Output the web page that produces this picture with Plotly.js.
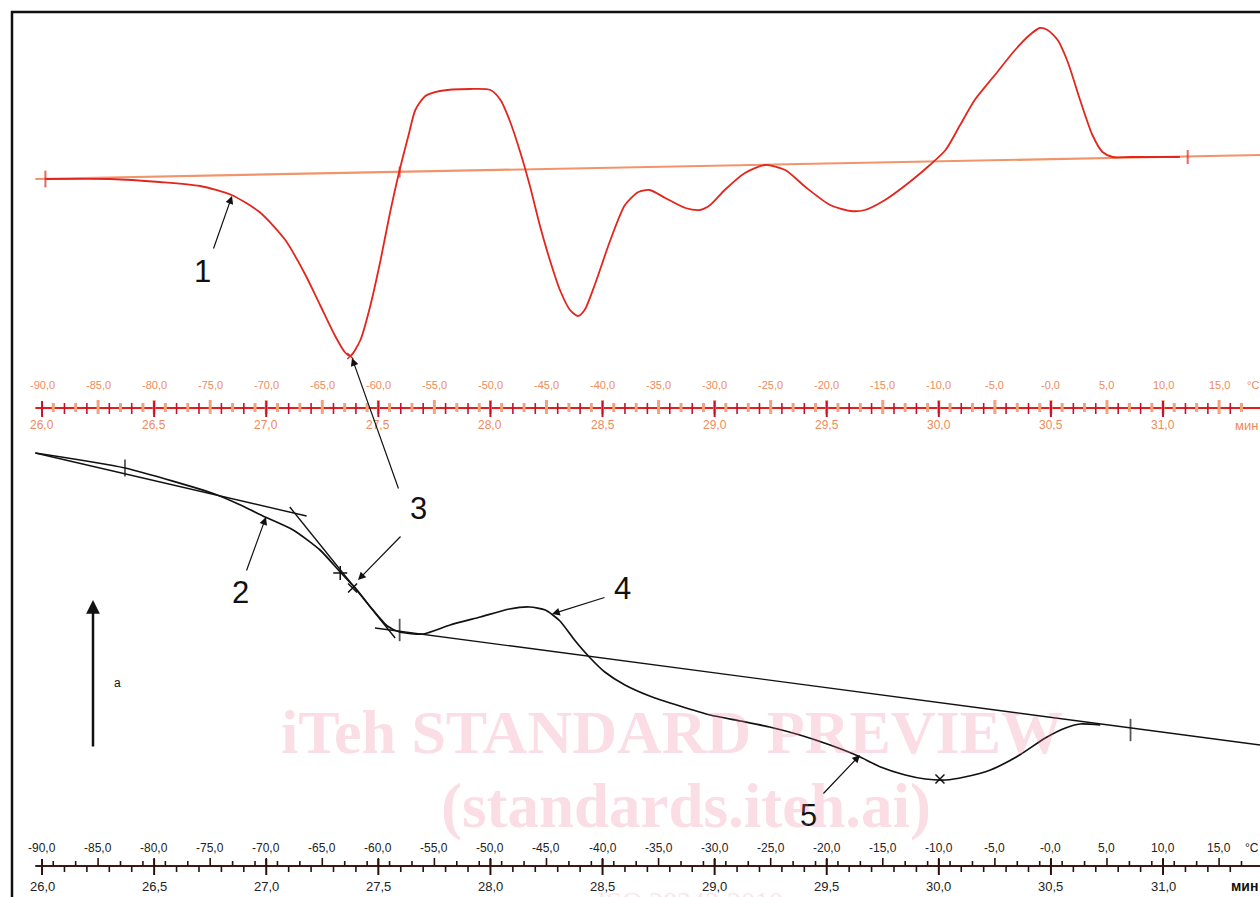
<!DOCTYPE html>
<html>
<head>
<meta charset="utf-8">
<script src="https://cdn.plot.ly/plotly-3.0.1.min.js"></script>
<style>html,body{margin:0;padding:0;background:#fff;}#chart{width:1260px;height:897px;}</style>
</head>
<body>
<div id="chart"></div>
<script>
// ---------- axis scales (temperature ruler and time ruler) ----------
const tempTickValues = [-90,-85,-80,-75,-70,-65,-60,-55,-50,-45,-40,-35,-30,-25,-20,-15,-10,-5,0,5,10,15];
const tempTickLabels = ["-90,0","-85,0","-80,0","-75,0","-70,0","-65,0","-60,0","-55,0","-50,0","-45,0","-40,0","-35,0","-30,0","-25,0","-20,0","-15,0","-10,0","-5,0","-0,0","5,0","10,0","15,0"];
const timeTickValues = [26.0,26.5,27.0,27.5,28.0,28.5,29.0,29.5,30.0,30.5,31.0];
const timeTickLabels = ["26,0","26,5","27,0","27,5","28,0","28,5","29,0","29,5","30,0","30,5","31,0"];
const startTime = 26.0, startTemp = -90.0, heatingRate = 20.0; // °C per min

// ---------- curve 1: DSC derivative signal (top, arbitrary units) ----------
const dscTemp = [-89.7,-83.9,-79.5,-75.9,-73.1,-70.6,-68.3,-66.5,-65.2,-63.9,-63.0,-62.5,-61.6,-60.7,-59.8,-59.0,-58.1,-57.3,-56.7,-55.8,-54.5,-51.8,-50.0,-49.1,-48.3,-47.4,-46.5,-45.6,-44.7,-43.8,-42.9,-42.2,-41.6,-40.7,-39.3,-38.0,-36.8,-35.8,-34.4,-32.6,-31.3,-30.4,-29.1,-27.3,-25.5,-23.7,-21.9,-19.7,-17.9,-16.6,-14.8,-12.6,-10.8,-9.4,-8.1,-6.8,-5.0,-3.2,-1.9,-1.0,-0.3,0.6,1.5,2.6,3.7,4.6,5.5,7.1,11.5];
const dscSignal = [0,0,-3,-7,-16,-33,-61,-96,-126,-156,-173,-177,-161,-126,-81,-36,9,44,69,83,88,90,89,79,59,29,-6,-46,-81,-111,-131,-137,-131,-106,-61,-26,-13,-11,-19,-29,-31,-26,-11,6,14,9,-8,-26,-32,-31,-21,-3,14,29,54,79,104,129,144,151,149,139,117,79,44,27,22,22,22];
const dscBaseTemp = [-90.6, 18.7];
const dscBaseSignal = [0, 24];

// ---------- curve 2/4/5: DSC heat flow (bottom, arbitrary units) ----------
const hfTemp = [-90.6,-82.6,-74.6,-72.3,-70.1,-67.6,-65.2,-63.4,-61.9,-60.7,-59.2,-58.1,-56.0,-53.6,-50.9,-48.3,-46.5,-45.1,-43.8,-42.5,-41.1,-39.8,-38.0,-35.8,-33.1,-30.4,-27.7,-25.1,-22.4,-19.7,-17.2,-15.2,-13.0,-11.2,-9.4,-7.7,-5.4,-2.8,-0.5,1.3,2.6,4.4];
const hfSignal = [181,166,140,129,117,104,84,62,44,27,8,2,0,9,17,25,27,24,13,-6,-24,-38,-51,-62,-72,-81,-87,-93,-101,-111,-122,-133,-141,-145,-146,-143,-136,-121,-104,-94,-90,-91];
const upperBaseTemp = [-90.6, -66.4];
const upperBaseSignal = [181, 118];
const lowerBaseTemp = [-60.3, 18.7];
const lowerBaseSignal = [6, -111];
const tangentTemp = [-67.9, -58.5];
const tangentSignal = [127, -4];

// ---------- evaluation marks ----------
const topTickTemp = [-89.7, -58.1, 12.2];
const topTickSignal = [0, 7, 22];
const topCrossTemp = [-62.5];
const topCrossSignal = [-177];
const botTickTemp = [-82.6, -58.1, 7.1];
const botTickSignal = [166, 4, -96];
const botPlusTemp = [-63.4];
const botPlusSignal = [61];
const botXTemp = [-62.3, -9.9];
const botXSignal = [46, -145];

// ---------- layout helpers ----------
const W = 1260, H = 897;
const px = x => x / W;
const py = y => 1 - y / H;
const timeToTemp = t => startTemp + heatingRate * (t - startTime);

const RED = '#e3261d', ORANGE = '#f0956a', BLACK = '#111111';

const traces = [
  {x: dscBaseTemp, y: dscBaseSignal, mode: 'lines', line: {color: ORANGE, width: 2.2}, yaxis: 'y', hoverinfo: 'skip'},
  {x: dscTemp, y: dscSignal, mode: 'lines', line: {color: RED, width: 1.8, shape: 'spline', smoothing: 0.7}, yaxis: 'y', hoverinfo: 'skip'},
  {x: topTickTemp, y: topTickSignal, mode: 'markers', marker: {symbol: 'line-ns', size: [12, 8, 10], line: {color: RED, width: 2}}, yaxis: 'y'},
  {x: topCrossTemp, y: topCrossSignal, mode: 'markers', marker: {symbol: 'x-thin', size: 6, line: {color: RED, width: 1.4}}, yaxis: 'y'},

  {x: upperBaseTemp, y: upperBaseSignal, mode: 'lines', line: {color: BLACK, width: 1.4}, yaxis: 'y2'},
  {x: lowerBaseTemp, y: lowerBaseSignal, mode: 'lines', line: {color: BLACK, width: 1.4}, yaxis: 'y2'},
  {x: tangentTemp, y: tangentSignal, mode: 'lines', line: {color: BLACK, width: 1.4}, yaxis: 'y2'},
  {x: hfTemp, y: hfSignal, mode: 'lines', line: {color: BLACK, width: 1.7, shape: 'spline', smoothing: 0.6}, yaxis: 'y2'},
  {x: botTickTemp, y: botTickSignal, mode: 'markers', marker: {symbol: 'line-ns', size: [12, 16, 16], line: {color: BLACK, width: 1.8}}, yaxis: 'y2'},
  {x: botPlusTemp, y: botPlusSignal, mode: 'markers', marker: {symbol: 'cross-thin', size: 10, line: {color: BLACK, width: 1.5}}, yaxis: 'y2'},
  {x: botXTemp, y: botXSignal, mode: 'markers', marker: {symbol: 'x-thin', size: 9, line: {color: BLACK, width: 1.5}}, yaxis: 'y2'}
];

const shapes = [];
const annotations = [];

// frame
shapes.push({type: 'line', xref: 'paper', yref: 'paper', x0: px(12), x1: px(12), y0: py(11), y1: 0, line: {color: '#111', width: 2.5}});
shapes.push({type: 'line', xref: 'paper', yref: 'paper', x0: px(11), x1: 1, y0: py(12), y1: py(12), line: {color: '#111', width: 2.5}});

function ruler(yPix, lineColor, timeTickColor, tempTickColor, labelColor, fontSize, tempLabelY, timeLabelY, unitFont, isTop) {
  const xStart = -90.6, xEnd = 18.7;
  shapes.push({type: 'line', xref: 'x', yref: 'paper', x0: xStart, x1: xEnd, y0: py(yPix), y1: py(yPix), line: {color: lineColor, width: 2}});
  // temperature ticks: odd degrees and multiples of 5 (above line)
  for (let T = -89; T <= 18; T++) {
    const odd = Math.abs(T % 2) === 1, five = T % 5 === 0;
    if (!odd && !five) continue;
    const up = five ? 8 : 5;
    const down = isTop ? (five ? 6 : 4) : 0;
    shapes.push({type: 'line', xref: 'x', yref: 'paper', x0: T, x1: T, y0: py(yPix - up), y1: py(yPix + down), line: {color: tempTickColor, width: isTop ? 3 : 1.6}});
  }
  // time ticks every 0.1 min (below line), longer every 0.5 min
  for (let k = 0; k <= 53; k++) {
    const t = startTime + k * 0.1;
    const T = timeToTemp(t);
    if (T > xEnd) break;
    const major = k % 5 === 0;
    const up = major ? 7 : (isTop ? 5 : 0);
    const down = major ? 9 : 6;
    shapes.push({type: 'line', xref: 'x', yref: 'paper', x0: T, x1: T, y0: py(yPix - up), y1: py(yPix + down), line: {color: timeTickColor, width: major ? 2 : 1.6}});
  }
  tempTickValues.forEach((v, i) => annotations.push({xref: 'x', yref: 'paper', x: v, y: py(tempLabelY), text: tempTickLabels[i], showarrow: false, xanchor: 'center', yanchor: 'middle', font: {family: 'Liberation Sans, Arial', size: fontSize, color: labelColor}}));
  timeTickValues.forEach((v, i) => annotations.push({xref: 'x', yref: 'paper', x: timeToTemp(v), y: py(timeLabelY), text: timeTickLabels[i], showarrow: false, xanchor: 'center', yanchor: 'middle', font: {family: 'Liberation Sans, Arial', size: fontSize + 1, color: labelColor}}));
  annotations.push({xref: 'paper', yref: 'paper', x: 1, y: py(tempLabelY), text: '°C', showarrow: false, xanchor: 'right', yanchor: 'middle', borderpad: 0, font: {family: 'Liberation Sans, Arial', size: fontSize, color: labelColor}});
  annotations.push({xref: 'paper', yref: 'paper', x: 1, y: py(timeLabelY), text: unitFont.bold ? '<b>мин</b>' : 'мин', showarrow: false, xanchor: 'right', yanchor: 'middle', font: {family: 'Liberation Sans, Arial', size: fontSize + 2, color: unitFont.color}});
}
ruler(408, '#e0201c', '#c8102e', '#f2a27e', '#ee8a5c', 11, 385, 425, {bold: false, color: '#ee8a5c'}, true);
ruler(866, '#3a1a12', '#2a120c', '#2a120c', '#222222', 12, 848, 886, {bold: true, color: '#111'}, false);

// numbered callouts
function callout(head, tail, width, size) {
  annotations.push({xref: 'paper', yref: 'paper', x: px(head[0]), y: py(head[1]), ax: tail[0] - head[0], ay: tail[1] - head[1], text: '', showarrow: true, arrowhead: 2, arrowsize: size || 1.3, arrowwidth: width || 1.2, arrowcolor: '#111'});
}
function label(txt, x, y, size) {
  annotations.push({xref: 'paper', yref: 'paper', x: px(x), y: py(y), text: txt, showarrow: false, xanchor: 'center', yanchor: 'middle', font: {family: 'Liberation Sans, Arial', size: size, color: '#111'}});
}
callout([232, 196], [213, 250]); label('1', 202, 272, 31);
callout([266, 517], [246, 572]); label('2', 240, 592, 31);
callout([352, 358], [399, 490]); callout([358, 580], [402, 535]); label('3', 418, 508, 31);
callout([552, 614], [606, 597]); label('4', 622, 588, 31);
callout([860, 755], [822, 795]); label('5', 808, 815, 31);
callout([93, 600], [93, 748], 2.5, 1.1); label('a', 117, 683, 12);

// watermark
const wm = 'rgba(236,120,150,0.25)';
annotations.push({xref: 'paper', yref: 'paper', x: px(672), y: py(732), yanchor: 'middle', text: '<b>iTeh STANDARD PREVIEW</b>', showarrow: false, font: {family: 'Liberation Serif, Times New Roman', size: 62, color: wm}});
annotations.push({xref: 'paper', yref: 'paper', x: px(686), y: py(806), yanchor: 'middle', text: '<b>(standards.iteh.ai)</b>', showarrow: false, font: {family: 'Liberation Serif, Times New Roman', size: 63, color: wm}});
annotations.push({xref: 'paper', yref: 'paper', x: px(690), y: py(902), yanchor: 'middle', text: 'ISO 28343:2010', showarrow: false, font: {family: 'Liberation Serif, Times New Roman', size: 28, color: 'rgba(236,120,150,0.22)'}});

const layout = {
  width: W, height: H,
  margin: {l: 0, r: 0, t: 0, b: 0, pad: 0},
  paper_bgcolor: '#ffffff', plot_bgcolor: '#ffffff',
  showlegend: false,
  xaxis: {range: [-93.75, 18.65], visible: false, fixedrange: true},
  yaxis: {range: [-718, 179], visible: false, fixedrange: true},
  yaxis2: {range: [-263, 634], visible: false, overlaying: 'y', fixedrange: true},
  shapes: shapes,
  annotations: annotations
};
Plotly.newPlot('chart', traces, layout, {staticPlot: true, displayModeBar: false});
</script>
</body>
</html>
